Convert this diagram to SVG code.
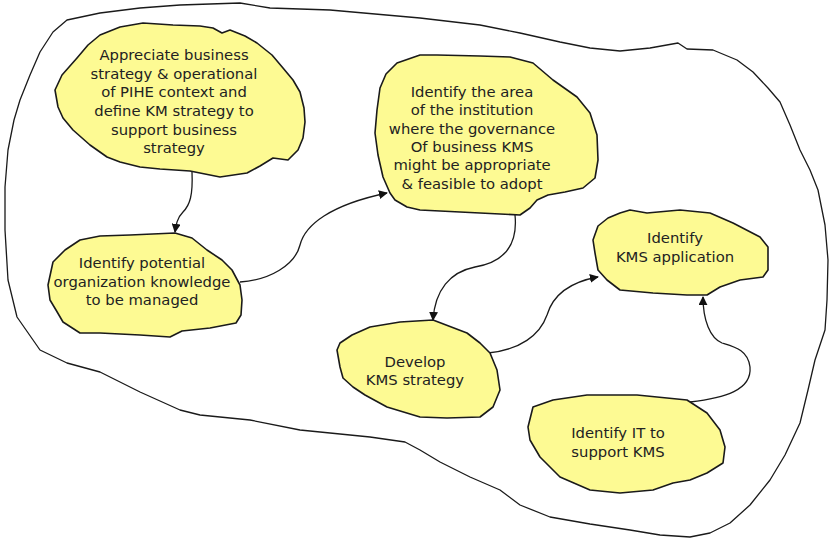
<svg xmlns="http://www.w3.org/2000/svg" width="830" height="539" viewBox="0 0 830 539">
<defs>
<style>
.bg{fill:#ffffff}
.outer{fill:none;stroke:#1a1a1a;stroke-width:1.3;stroke-linejoin:round}
.blob{fill:#fdfa93;stroke:#1a1a1a;stroke-width:1.6;stroke-linejoin:round}
.t{font-family:"DejaVu Sans","Liberation Sans",sans-serif;font-size:14.8px;fill:#222;text-anchor:middle}
.c{fill:none;stroke:#1a1a1a;stroke-width:1.3}
</style>
<marker id="ah" viewBox="0 0 10 10" refX="9" refY="5" markerWidth="9" markerHeight="9" markerUnits="userSpaceOnUse" orient="auto">
<path d="M0,0 L10,5 L0,10 Z" fill="#111"/>
</marker>
</defs>
<rect class="bg" x="0" y="0" width="830" height="539"/>
<path id="boundary" class="outer" d="M53,32 L67,20 L100,13 L140,8 L180,5 L240,3 L270,8 L330,10 L420,18 L480,25 L520,33 L560,42 L590,48 L620,51 L650,48 L678,43 L687,49 L713,50 L737,60 L753,72 L768,88 L780,102 L790,125 L800,150 L810,170 L818,190 L825,225 L828,260 L827,300 L825,330 L815,360 L808,390 L800,423 L785,455 L770,480 L750,505 L730,523 L710,533 L690,537 L660,535 L630,530 L590,524 L550,517 L520,505 L500,490 L470,477 L440,462 L420,450 L405,442 L370,437 L300,430 L250,420 L200,415 L180,410 L140,392 L100,372 L67,363 L40,350 L17,317 L8,280 L5,230 L5,187 L8,150 L14,120 L20,100 L30,75 L40,52 Z"/>

<g id="connectors">
<path class="c" marker-end="url(#ah)" d="M192,172 C193,195 190,205 183,212 C177,218 176,225 175,232"/>
<path class="c" marker-end="url(#ah)" d="M240,282 C270,280 295,265 300,245 C305,225 330,205 387,193"/>
<path class="c" marker-end="url(#ah)" d="M515,215 C518,245 505,262 475,267 C450,272 435,290 433,320"/>
<path class="c" marker-end="url(#ah)" d="M488,353 C520,350 540,335 547,315 C553,295 570,282 598,277"/>
<path class="c" marker-end="url(#ah)" d="M690,402 C725,398 752,390 750,367 C748,350 735,347 722,343 C710,338 703,320 703,297"/>
</g>

<g id="n1">
<path class="blob" d="M55,90 L62,75 L77,58 L88,45 L100,35 L120,27 L143,23 L173,25 L200,26 L213,28 L222,33 L230,30 L245,36 L257,43 L272,55 L283,68 L293,80 L300,92 L304,108 L305,122 L303,138 L298,150 L288,160 L273,158 L260,166 L247,173 L220,177 L190,171 L160,169 L140,167 L120,162 L107,157 L90,145 L73,130 L63,118 L58,107 Z"/>
<text class="t" x="174" y="60">Appreciate business</text>
<text class="t" x="174" y="79">strategy &amp; operational</text>
<text class="t" x="174" y="97">of PIHE context and</text>
<text class="t" x="174" y="116">define KM strategy to</text>
<text class="t" x="174" y="135">support business</text>
<text class="t" x="174" y="153">strategy</text>
</g>

<g id="n2">
<path class="blob" d="M48,285 L53,262 L65,250 L80,240 L100,236 L130,235 L175,233 L192,238 L207,250 L222,260 L232,270 L240,285 L242,300 L241,315 L236,323 L210,328 L182,331 L170,337 L140,335 L100,333 L80,333 L63,322 L56,310 L50,300 Z"/>
<text class="t" x="142" y="268">Identify potential</text>
<text class="t" x="142" y="287">organization knowledge</text>
<text class="t" x="142" y="305">to be managed</text>
</g>

<g id="n3">
<path class="blob" d="M377,110 L380,88 L386,74 L397,63 L420,55 L437,55 L480,56 L510,57 L533,63 L553,80 L577,97 L590,113 L597,135 L598,160 L595,178 L583,188 L565,192 L548,195 L537,200 L530,208 L520,215 L480,213 L440,211 L420,210 L407,207 L395,200 L390,193 L383,177 L378,155 L375,133 Z"/>
<text class="t" x="472" y="97">Identify the area</text>
<text class="t" x="472" y="115">of the institution</text>
<text class="t" x="472" y="134">where the governance</text>
<text class="t" x="472" y="152">Of business KMS</text>
<text class="t" x="472" y="170">might be appropriate</text>
<text class="t" x="472" y="189">&amp; feasible to adopt</text>
</g>

<g id="n4">
<path class="blob" d="M337,350 L340,343 L352,335 L370,327 L400,322 L433,320 L467,333 L480,343 L490,353 L497,370 L500,390 L493,407 L480,417 L447,418 L420,417 L387,407 L365,395 L353,387 L343,378 L340,367 Z"/>
<text class="t" x="415" y="367">Develop</text>
<text class="t" x="415" y="385">KMS strategy</text>
</g>

<g id="n5">
<path class="blob" d="M593,240 L598,226 L608,218 L620,213 L630,210 L647,213 L680,210 L710,213 L733,223 L760,237 L768,247 L768,270 L763,277 L740,280 L720,287 L707,295 L687,295 L653,293 L620,290 L607,280 L598,270 L595,253 Z"/>
<text class="t" x="675" y="243">Identify</text>
<text class="t" x="675" y="262">KMS application</text>
</g>

<g id="n6">
<path class="blob" d="M528,427 L533,407 L553,400 L587,395 L637,395 L687,400 L707,413 L720,430 L725,447 L723,463 L707,473 L690,480 L673,483 L653,490 L620,493 L590,490 L560,477 L540,457 L530,440 Z"/>
<text class="t" x="618" y="438">Identify IT to</text>
<text class="t" x="618" y="457">support KMS</text>
</g>
</svg>
